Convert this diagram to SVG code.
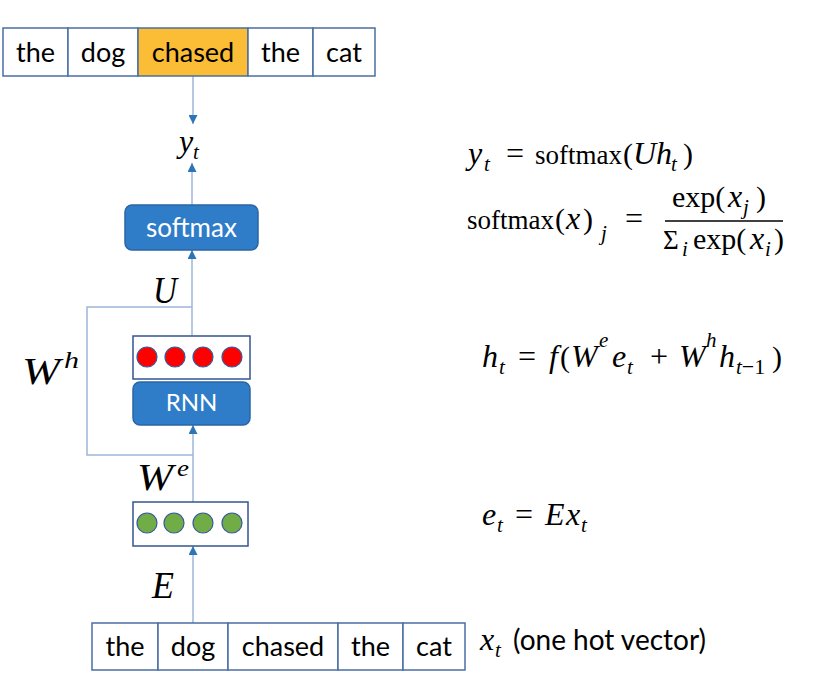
<svg xmlns="http://www.w3.org/2000/svg" width="815" height="684" viewBox="0 0 815 684">
<style>
.cell{fill:#fff;stroke:#4a6fa5;stroke-width:1.5}
.hl{fill:#fbbd36}
.w{font-family:Lato,"Open Sans",sans-serif;font-size:27px;fill:#000;text-anchor:middle}
.lbl{font-family:Lato,"Open Sans",sans-serif;fill:#fff;text-anchor:middle}
.blk{fill:#2f7dc8;stroke:#2a66a3;stroke-width:1.5}
.vec{fill:#fff;stroke:#34568f;stroke-width:1.5}
.red{fill:#ff0000;stroke:#3a5a96;stroke-width:1.2}
.grn{fill:#70ad47;stroke:#3a5a96;stroke-width:1.2}
.eq{font-family:"Liberation Serif","Times New Roman",serif;font-size:30px;fill:#000}
.m{font-family:"Liberation Serif","Times New Roman",serif;font-style:italic;fill:#000}
.i{font-style:italic;font-size:32px}
.s{font-style:italic;font-size:21px}
.u{font-size:27px}
.o{font-size:32px}
.cn{fill:none;stroke:#9fb6d8;stroke-width:1.5}
.ar{marker-end:url(#ah)}
</style>
<defs>
<marker id="ah" viewBox="0 0 10 10" refX="10" refY="5" markerWidth="9" markerHeight="9" markerUnits="userSpaceOnUse" orient="auto">
<path d="M0,0 L10,5 L0,10 z" fill="#2e75b6"/>
</marker>
</defs>

<g id="connectors">
<line class="cn ar" x1="193" y1="76" x2="193" y2="124"/>
<line class="cn ar" x1="192" y1="205" x2="192" y2="163"/>
<line class="cn ar" x1="192" y1="336" x2="192" y2="250"/>
<polyline class="cn" points="192,307 87,307 87,455 193,455"/>
<line class="cn ar" x1="193" y1="502" x2="193" y2="425"/>
<line class="cn ar" x1="193" y1="623" x2="193" y2="546"/>
</g>

<g id="output-words">
<rect class="cell" x="3" y="28" width="65" height="48"/>
<rect class="cell" x="68" y="28" width="70" height="48"/>
<rect class="cell hl" x="138" y="28" width="110" height="48"/>
<rect class="cell" x="248" y="28" width="65" height="48"/>
<rect class="cell" x="313" y="28" width="62" height="48"/>
<text class="w" x="35.5" y="62">the</text>
<text class="w" x="103" y="62">dog</text>
<text class="w" x="193" y="62">chased</text>
<text class="w" x="280.5" y="62">the</text>
<text class="w" x="344" y="62">cat</text>
</g>

<g id="yt-label">
<text class="eq"><tspan class="i" x="179" y="152">y</tspan><tspan class="s" x="193" y="159">t</tspan></text>
</g>

<g id="softmax">
<rect class="blk" x="125" y="205" width="133" height="45" rx="7"/>
<text class="lbl" x="191.5" y="237" font-size="26">softmax</text>
</g>

<g id="U-label">
<text class="m" x="153" y="303" font-size="38" textLength="24" lengthAdjust="spacingAndGlyphs">U</text>
</g>

<g id="Wh-label">
<text class="m" x="22" y="384" font-size="38" textLength="38" lengthAdjust="spacingAndGlyphs">W</text>
<text class="m" x="64" y="368" font-size="24" textLength="15" lengthAdjust="spacingAndGlyphs">h</text>
</g>

<g id="hidden">
<rect class="vec" x="133" y="336" width="117" height="43"/>
<circle class="red" cx="147" cy="357" r="10"/>
<circle class="red" cx="175" cy="357" r="10"/>
<circle class="red" cx="203" cy="357" r="10"/>
<circle class="red" cx="232" cy="357" r="10"/>
</g>

<g id="rnn">
<rect class="blk" x="133" y="382" width="117" height="43" rx="7"/>
<text class="lbl" x="191.5" y="411" font-size="24">RNN</text>
</g>

<g id="We-label">
<text class="m" x="137" y="490" font-size="38" textLength="36" lengthAdjust="spacingAndGlyphs">W</text>
<text class="m" x="177" y="476" font-size="24" textLength="12" lengthAdjust="spacingAndGlyphs">e</text>
</g>

<g id="embedding">
<rect class="vec" x="133" y="502" width="115" height="44"/>
<circle class="grn" cx="147" cy="523" r="10"/>
<circle class="grn" cx="174" cy="523" r="10"/>
<circle class="grn" cx="203" cy="523" r="10"/>
<circle class="grn" cx="232" cy="523" r="10"/>
</g>

<g id="E-label">
<text class="m" x="152" y="598" font-size="38" textLength="22" lengthAdjust="spacingAndGlyphs">E</text>
</g>

<g id="input-words">
<rect class="cell" x="92" y="623" width="66" height="47"/>
<rect class="cell" x="158" y="623" width="70" height="47"/>
<rect class="cell" x="228" y="623" width="110" height="47"/>
<rect class="cell" x="338" y="623" width="65" height="47"/>
<rect class="cell" x="403" y="623" width="62" height="47"/>
<text class="w" x="125" y="656">the</text>
<text class="w" x="193" y="656">dog</text>
<text class="w" x="283" y="656">chased</text>
<text class="w" x="370.5" y="656">the</text>
<text class="w" x="434" y="656">cat</text>
</g>

<g id="eq-yt">
<text class="eq"><tspan class="i" x="468" y="164">y</tspan><tspan class="s" x="484" y="171">t</tspan><tspan class="o" x="506" y="164">=</tspan><tspan class="u" x="535" y="164">softmax</tspan><tspan x="623" y="164">(</tspan><tspan class="i" x="633" y="164">U</tspan><tspan class="i">h</tspan><tspan class="s" x="671" y="171">t</tspan><tspan x="683" y="164">)</tspan></text>
</g>

<g id="eq-softmax">
<text class="eq"><tspan class="u" x="467" y="229">softmax</tspan><tspan x="555" y="229">(</tspan><tspan class="i" x="566" y="229">x</tspan><tspan x="583" y="229">)</tspan><tspan class="s" x="601" y="240">j</tspan><tspan class="o" x="625" y="229">=</tspan><tspan x="672" y="207">exp(</tspan><tspan class="i" x="728" y="207">x</tspan><tspan class="s" x="743" y="214">j</tspan><tspan x="756" y="207">)</tspan><tspan x="663" y="249" font-size="27">Σ</tspan><tspan class="s" x="682" y="256">i</tspan><tspan x="693" y="249">exp(</tspan><tspan class="i" x="750" y="249">x</tspan><tspan class="s" x="765" y="256">i</tspan><tspan x="774" y="249">)</tspan></text>
<line x1="665" y1="221" x2="783" y2="221" stroke="#000" stroke-width="1.3"/>
</g>

<g id="eq-ht">
<text class="eq"><tspan class="i" x="482" y="367">h</tspan><tspan class="s" x="499" y="374">t</tspan><tspan class="o" x="518" y="367">=</tspan><tspan class="i" x="549" y="367">f</tspan><tspan x="560" y="367">(</tspan><tspan class="i" x="571" y="367">W</tspan><tspan class="s" x="599" y="347">e</tspan><tspan class="i" x="612" y="367">e</tspan><tspan class="s" x="627" y="374">t</tspan><tspan class="o" x="650" y="367">+</tspan><tspan class="i" x="679" y="367">W</tspan><tspan class="s" x="706" y="347">h</tspan><tspan class="i" x="719" y="367">h</tspan><tspan class="s" x="736" y="374">t</tspan><tspan font-size="22">−1</tspan><tspan x="772" y="367">)</tspan></text>
</g>

<g id="eq-et">
<text class="eq"><tspan class="i" x="482" y="525">e</tspan><tspan class="s" x="497" y="532">t</tspan><tspan class="o" x="515" y="525">=</tspan><tspan class="i" x="545" y="525">E</tspan><tspan class="i" x="566" y="525">x</tspan><tspan class="s" x="581" y="532">t</tspan></text>
</g>

<g id="eq-xt">
<text class="eq"><tspan class="i" x="480" y="650">x</tspan><tspan class="s" x="495" y="657">t</tspan><tspan x="513" y="650" font-family="Lato,'Open Sans',sans-serif" font-size="28">(one hot vector)</tspan></text>
</g>
</svg>
